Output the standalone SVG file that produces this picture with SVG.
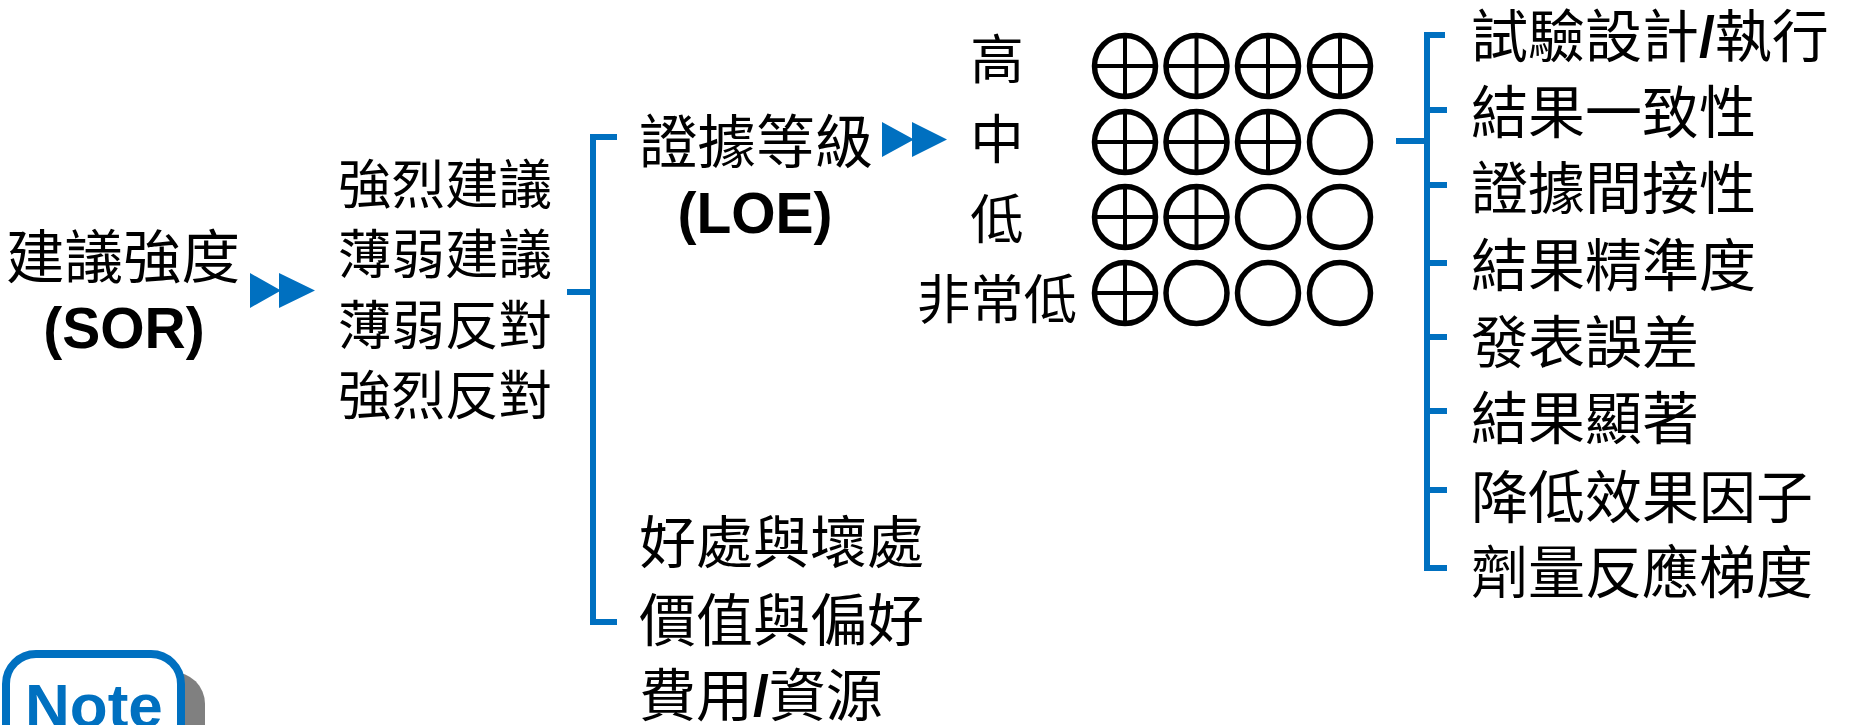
<svg xmlns="http://www.w3.org/2000/svg" xmlns:xlink="http://www.w3.org/1999/xlink" width="1850" height="725" viewBox="0 0 1850 725">
<style>
.cjk{font-family:"Noto Sans CJK TC","Noto Sans CJK SC",sans-serif;fill:#000}
.f58{font-size:58.5px}
.f57{font-size:57px}
.f52{font-size:53.5px}
.lat{font-family:"Liberation Sans",Arial,sans-serif;font-weight:bold;fill:#000}
.sl{font-family:"Liberation Sans",Arial,sans-serif;font-weight:bold}
.br{fill:none;stroke:#0070C0;stroke-width:6}
.arr{fill:#0070C0}
.ring{fill:none;stroke:#000;stroke-width:5.5}
.cross{stroke:#000;stroke-width:4}
</style>
<defs>
<g id="co"><circle class="ring" r="30.5"/></g>
<g id="cp"><circle class="ring" r="30.5"/><path class="cross" d="M-30,0H30M0,-30V30"/></g>
</defs>
<rect width="1850" height="725" fill="#fff"/>

<g id="connectors">
<path class="arr" d="M250,273L250,308L281,290.5Z M279,273L279,308L315,290.5Z"/>
<path class="arr" d="M882,122L882,157L914,139.5Z M912,122L912,157L947,139.5Z"/>
<path class="br" d="M617,137H593V622H617M567,292H593"/>
<path class="br" d="M1445,35H1427V568H1447M1427,110H1447M1427,185H1447M1427,263H1447M1427,337H1447M1427,411H1447M1427,490H1447M1396,141H1427"/>
</g>

<g id="sor">
<text class="cjk f58" x="123" y="278" text-anchor="middle">建議強度</text>
<text class="lat" font-size="57" x="124" y="348" text-anchor="middle">(SOR)</text>
</g>

<g id="sor-levels">
<text class="cjk f52" x="338" y="204">強烈建議</text>
<text class="cjk f52" x="338" y="274">薄弱建議</text>
<text class="cjk f52" x="338" y="345">薄弱反對</text>
<text class="cjk f52" x="338" y="415">強烈反對</text>
</g>

<g id="loe">
<text class="cjk f58" x="756" y="163" text-anchor="middle">證據等級</text>
<text class="lat" font-size="57" x="755" y="233" text-anchor="middle">(LOE)</text>
</g>

<g id="loe-levels">
<text class="cjk f52" x="997" y="79" text-anchor="middle">高</text>
<text class="cjk f52" x="997" y="159" text-anchor="middle">中</text>
<text class="cjk f52" x="997" y="239" text-anchor="middle">低</text>
<text class="cjk f52" x="997" y="319" text-anchor="middle">非常低</text>
</g>

<g id="loe-symbols">
<use href="#cp" x="1125" y="66"/><use href="#cp" x="1196.5" y="66"/><use href="#cp" x="1268" y="66"/><use href="#cp" x="1340" y="66"/>
<use href="#cp" x="1125" y="142"/><use href="#cp" x="1196.5" y="142"/><use href="#cp" x="1268" y="142"/><use href="#co" x="1340" y="142"/>
<use href="#cp" x="1125" y="217"/><use href="#cp" x="1196.5" y="217"/><use href="#co" x="1268" y="217"/><use href="#co" x="1340" y="217"/>
<use href="#cp" x="1125" y="293"/><use href="#co" x="1196.5" y="293"/><use href="#co" x="1268" y="293"/><use href="#co" x="1340" y="293"/>
</g>

<g id="loe-factors">
<text class="cjk f57" x="1471" y="57">試驗設計<tspan class="sl">/</tspan>執行</text>
<text class="cjk f57" x="1471" y="133">結果一致性</text>
<text class="cjk f57" x="1471" y="209">證據間接性</text>
<text class="cjk f57" x="1471" y="286">結果精準度</text>
<text class="cjk f57" x="1471" y="363">發表誤差</text>
<text class="cjk f57" x="1471" y="439">結果顯著</text>
<text class="cjk f57" x="1471" y="518">降低效果因子</text>
<text class="cjk f57" x="1471" y="593">劑量反應梯度</text>
</g>

<g id="other-factors">
<text class="cjk f57" x="639" y="563">好處與壞處</text>
<text class="cjk f57" x="639" y="641">價值與偏好</text>
<text class="cjk f57" x="639" y="716">費用<tspan class="sl">/</tspan>資源</text>
</g>

<g id="note">
<rect x="24" y="672" width="181" height="120" rx="32" fill="#808080"/>
<rect x="6" y="654" width="175" height="120" rx="30" fill="#fff" stroke="#0070C0" stroke-width="8"/>
<text x="25" y="727" font-family="Liberation Sans, Arial, sans-serif" font-weight="bold" font-size="62" fill="#0070C0">Note</text>
</g>
</svg>
